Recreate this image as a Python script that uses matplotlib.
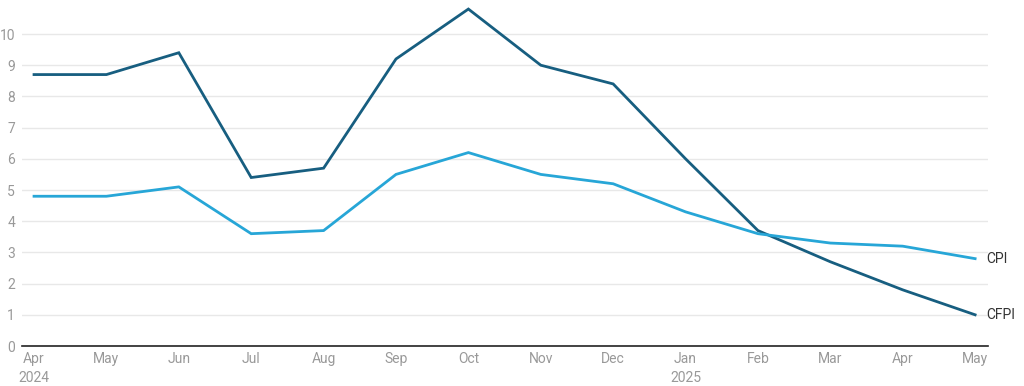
import numpy as np
import matplotlib
matplotlib.use("Agg")
import matplotlib.pyplot as plt

# data
months = ["Apr\n2024", "May", "Jun", "Jul", "Aug", "Sep", "Oct", "Nov", "Dec",
          "Jan\n2025", "Feb", "Mar", "Apr", "May"]
cfpi = [8.7, 8.7, 9.4, 5.4, 5.7, 9.2, 10.8, 9.0, 8.4, 6.0, 3.7, 2.7, 1.8, 1.0]
cpi = [4.8, 4.8, 5.1, 3.6, 3.7, 5.5, 6.2, 5.5, 5.2, 4.3, 3.6, 3.3, 3.2, 2.8]
yticks = list(range(0, 11))

plt.rcParams["font.family"] = ["Roboto", "DejaVu Sans"]

fig = plt.figure(figsize=(10.24, 3.86), dpi=100)
ax = fig.add_axes([0.0215, 0.1036, 0.9435, 0.8964])

x = np.arange(len(months))
ax.plot(x, cfpi, color="#175e80", lw=2, solid_joinstyle="miter", zorder=3)
ax.plot(x, cpi, color="#27a6d7", lw=2, solid_joinstyle="miter", zorder=3)

ax.text(x[-1] + 0.16, cpi[-1], "CPI", va="center", ha="left", fontsize=10, color="#333333")
ax.text(x[-1] + 0.16, cfpi[-1], "CFPI", va="center", ha="left", fontsize=10, color="#333333")

ax.set_xlim(-0.166, len(months) - 1 + 0.18)
ax.set_ylim(0, 11.09)
ax.set_yticks(yticks)
ax.set_yticklabels([str(t) for t in yticks])
ax.set_xticks(x)
ax.set_xticklabels(months, linespacing=1.5)
ax.grid(axis="y", color="#e8e8e8", lw=1)
ax.set_axisbelow(True)
for s in ["top", "right", "left"]:
    ax.spines[s].set_visible(False)
ax.spines["bottom"].set_color("#222222")
ax.spines["bottom"].set_linewidth(1.2)
ax.tick_params(axis="both", length=0, labelsize=10, colors="#999999")
ax.tick_params(axis="y", pad=5)
ax.tick_params(axis="x", pad=4)

fig.savefig("out.png", dpi=100)
